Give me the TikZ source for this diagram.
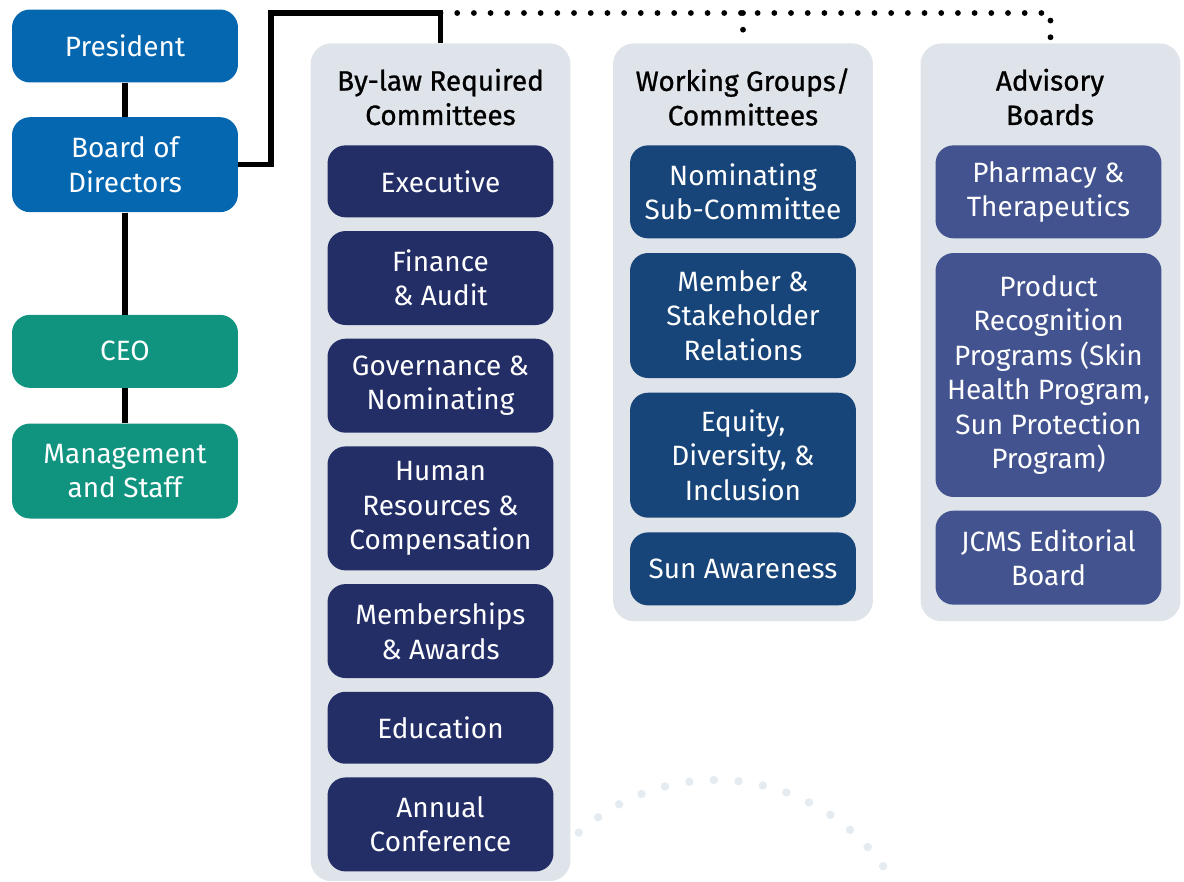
\documentclass[tikz,border=0pt]{standalone}
\usepackage{fontspec}
\setmainfont{Fira Sans}
\newfontfamily\headfont{Fira Sans}[FakeBold=0.9]
\usepackage{tikz}
\usetikzlibrary{positioning}

\definecolor{boardblue}{RGB}{4,103,176}
\definecolor{staffteal}{RGB}{16,148,128}
\definecolor{bylawnavy}{RGB}{35,46,103}
\definecolor{groupblue}{RGB}{23,69,121}
\definecolor{advisoryblue}{RGB}{66,83,143}
\definecolor{panelgrey}{RGB}{223,227,234}
\definecolor{arcgrey}{RGB}{228,236,242}

\begin{document}
\begin{tikzpicture}[x=0.02cm, y=-0.02cm, font=\fontsize{15.9}{19.6}\selectfont]
\tikzset{box/.style={rectangle, align=center, text=white, rounded corners=0.36cm, inner sep=0pt, minimum width=4.52cm, minimum height=1.46cm},
		lead/.style={box, fill=boardblue},
		staff/.style={box, fill=staffteal},
		bylaw/.style={box, fill=bylawnavy},
		group/.style={box, fill=groupblue},
		advisory/.style={box, fill=advisoryblue},
		panel/.style={rectangle, fill=panelgrey, rounded corners=0.42cm, minimum width=5.2cm, anchor=north},
		heading/.style={align=center, text=black, font=\headfont\fontsize{15.9}{19.6}\selectfont},
		link/.style={line width=3.2pt},
		dotline/.style={line width=3.3pt, line cap=round, dash pattern=on 0pt off 9.5pt},
		arcdot/.style={fill=arcgrey}}
\useasboundingbox (0,0) rectangle (1184,882);
\foreach \a in {-132,-125.1,...,-35} \fill[arcdot] (716,985) ++(\a:205) circle[radius=2.4pt];
\node[lead] (pres) at (125,46) {President};
\node[lead, minimum height=1.9cm, below=0.68cm of pres] (board) {Board of\\Directors};
\node[staff, below=2.04cm of board] (ceo) {CEO};
\node[staff, minimum height=1.9cm, below=0.7cm of ceo] (mgmt) {Management\\and Staff};
\draw[link] (pres) -- (board);
\draw[link] (board) -- (ceo);
\draw[link] (ceo) -- (mgmt);
\node[panel, minimum height=16.76cm] (byl) at (440.5,43) {};
\node[panel, minimum height=11.56cm] (wg) at (743,43) {};
\node[panel, minimum height=11.56cm] (adv) at (1050.5,43) {};
\node[heading] (bylt) at (440.5,97) {By-law Required\\Committees};
\node[heading] (wgt) at (743,97) {Working Groups/\\Committees};
\node[heading] (advt) at (1050,97) {Advisory\\Boards};
\node[bylaw, anchor=north, minimum height=1.44cm] (exec) at (440.5,145) {Executive};
\node[bylaw, below=0.26cm of exec, minimum height=1.88cm] (fin) {Finance\\\& Audit};
\node[bylaw, below=0.26cm of fin, minimum height=1.88cm] (gov) {Governance \&\\Nominating};
\node[bylaw, below=0.26cm of gov, minimum height=2.48cm] (hr) {Human\\Resources \&\\Compensation};
\node[bylaw, below=0.26cm of hr, minimum height=1.88cm] (memb) {Memberships\\\& Awards};
\node[bylaw, below=0.26cm of memb, minimum height=1.44cm] (edu) {Education};
\node[bylaw, below=0.26cm of edu, minimum height=1.88cm] (conf) {Annual\\Conference};
\node[group, anchor=north, minimum height=1.86cm] (nom) at (743,145) {Nominating\\Sub-Committee};
\node[group, below=0.28cm of nom, minimum height=2.5cm] (rel) {Member \&\\Stakeholder\\Relations};
\node[group, below=0.28cm of rel, minimum height=2.5cm] (edi) {Equity,\\Diversity, \&\\Inclusion};
\node[group, below=0.28cm of edi, minimum height=1.46cm] (sun) {Sun Awareness};
\node[advisory, anchor=north, minimum height=1.86cm] (pharm) at (1048.5,145) {Pharmacy \&\\Therapeutics};
\node[advisory, below=0.28cm of pharm, minimum height=4.88cm] (prod) {Product\\Recognition\\Programs (Skin\\Health Program,\\Sun Protection\\Program)};
\node[advisory, below=0.26cm of prod, minimum height=1.88cm] (jcms) {JCMS Editorial\\Board};
\coordinate (bend) at (271,13);
\draw[dotline] (byl.north |- bend) -- (adv.north |- bend) -- (adv.north);
\draw[dotline] (wg.north |- bend) -- (wg.north);
\draw[link] (board.east) -| (bend) -| (byl.north);
\end{tikzpicture}
\end{document}
